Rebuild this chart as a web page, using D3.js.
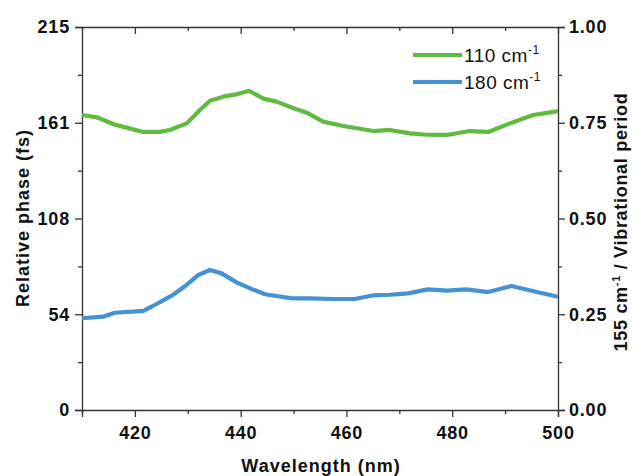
<!DOCTYPE html>
<html>
<head>
<meta charset="utf-8">
<script src="https://cdn.jsdelivr.net/npm/d3@7"></script>
<style>
  html, body { margin: 0; padding: 0; background: #fff; }
  svg { display: block; font-family: "Liberation Sans", Arial, sans-serif; }
</style>
</head>
<body>
<svg id="chart" width="633" height="476"></svg>
<script>
// Relative phase (fs) vs. wavelength for two vibrational modes
const wl110 = [410, 412.8, 416, 418.4, 421.6, 424.7, 426.6, 429.8, 432.3, 434.2, 436.7, 438.9, 441.6, 444.3, 446.8, 450, 452.5, 455.6, 459.4, 465.1, 468.2, 472, 475.2, 479, 483.3, 486.8, 490.9, 495.3, 500];
const phase110 = [165.6, 164.3, 160.4, 158.5, 156.1, 156.1, 157.2, 160.9, 168.4, 173.6, 175.9, 177, 179.2, 174.8, 173.1, 169.4, 166.9, 161.9, 159.4, 156.6, 157.2, 155.3, 154.5, 154.4, 156.6, 156.1, 160.9, 165.6, 167.8];

const wl180 = [410, 414, 416.2, 421.6, 424.1, 427.2, 429.5, 432, 434.2, 436.4, 439.3, 441.8, 444.6, 446.8, 449.7, 453.1, 457.5, 461.6, 465.1, 468.2, 471.7, 475.4, 479, 482.7, 486.8, 491.2, 496, 500];
const phase180 = [51.5, 52.4, 54.6, 55.6, 59.5, 64.6, 69.6, 75.8, 78.6, 76.7, 71.5, 68.3, 65, 64, 62.7, 62.7, 62.3, 62.3, 64.4, 64.7, 65.5, 67.7, 67, 67.7, 66.2, 69.6, 66.2, 63.6];

const seriesNames = ["110 cm", "180 cm"];
const seriesColors = ["#5fbb3f", "#4592d2"];

const xTicks = [420, 440, 460, 480, 500];
const xMinor = [410, 430, 450, 470, 490];
const phaseMax = 215;
const leftTicks = [0, 53.75, 107.5, 161.25, 215];
const leftLabels = ["0", "54", "108", "161", "215"];
const rightTicks = [0, 0.25, 0.5, 0.75, 1.0];

const svg = d3.select("#chart");
const m = { left: 82, right: 558, top: 27, bottom: 410 };

const x = d3.scaleLinear().domain([410, 500]).range([m.left, m.right]);
const y = d3.scaleLinear().domain([0, phaseMax]).range([m.bottom, m.top]);
const yR = d3.scaleLinear().domain([0, 1]).range([m.bottom, m.top]);

const tickFont = "bold 18px 'Liberation Sans', Arial, sans-serif";
const axisColor = "#333";

// minor tick positions halfway between labelled ticks
const leftMinor = d3.range(4).map(i => (leftTicks[i] + leftTicks[i + 1]) / 2);
const rightMinor = d3.range(4).map(i => (rightTicks[i] + rightTicks[i + 1]) / 2);

function styleAxis(g) {
  g.selectAll("path.domain").attr("stroke", axisColor).attr("stroke-width", 1.3);
  g.selectAll(".tick line").attr("stroke", axisColor).attr("stroke-width", 1.3);
  g.selectAll(".tick text").style("font", tickFont).style("letter-spacing", "0.8px").attr("fill", "#111");
}

// bottom axis
const gB = svg.append("g").attr("transform", `translate(0,${m.bottom})`)
  .call(d3.axisBottom(x).tickValues(xTicks).tickFormat(d3.format("d")).tickSize(7).tickPadding(9));
styleAxis(gB);
svg.append("g").attr("transform", `translate(0,${m.bottom})`)
  .call(d3.axisBottom(x).tickValues(xMinor).tickFormat("").tickSize(4))
  .call(g => g.select("path.domain").remove())
  .call(styleAxis);

// top axis (ticks inward)
const gT = svg.append("g").attr("transform", `translate(0,${m.top})`)
  .call(d3.axisBottom(x).tickValues(xTicks).tickFormat("").tickSizeInner(7).tickSizeOuter(0));
styleAxis(gT);
svg.append("g").attr("transform", `translate(0,${m.top})`)
  .call(d3.axisBottom(x).tickValues(xMinor).tickFormat("").tickSize(4))
  .call(g => g.select("path.domain").remove())
  .call(styleAxis);

// left axis
const gL = svg.append("g").attr("transform", `translate(${m.left},0)`)
  .call(d3.axisLeft(y).tickValues(leftTicks).tickFormat((d, i) => leftLabels[i]).tickSize(7).tickPadding(5));
styleAxis(gL);
svg.append("g").attr("transform", `translate(${m.left},0)`)
  .call(d3.axisLeft(y).tickValues(leftMinor).tickFormat("").tickSize(4))
  .call(g => g.select("path.domain").remove())
  .call(styleAxis);

// right axis
const gR = svg.append("g").attr("transform", `translate(${m.right},0)`)
  .call(d3.axisRight(yR).tickValues(rightTicks).tickFormat(d3.format(".2f")).tickSize(7).tickPadding(4));
styleAxis(gR);
svg.append("g").attr("transform", `translate(${m.right},0)`)
  .call(d3.axisRight(yR).tickValues(rightMinor).tickFormat("").tickSize(4))
  .call(g => g.select("path.domain").remove())
  .call(styleAxis);

// data lines
const line = d3.line().x(d => x(d[0])).y(d => y(d[1]));
const data110 = wl110.map((w, i) => [w, phase110[i]]);
const data180 = wl180.map((w, i) => [w, phase180[i]]);
[data110, data180].forEach((d, i) => {
  svg.append("path").datum(d)
    .attr("fill", "none")
    .attr("stroke", seriesColors[i])
    .attr("stroke-width", 4.2)
    .attr("stroke-linejoin", "round")
    .attr("d", line);
});

// axis titles
const titleFont = "bold 18px 'Liberation Sans', Arial, sans-serif";
svg.append("text")
  .attr("x", 321).attr("y", 472)
  .attr("text-anchor", "middle").style("font", titleFont).style("letter-spacing", "1px").attr("fill", "#111")
  .text("Wavelength (nm)");

svg.append("text")
  .attr("transform", `translate(29,218) rotate(-90)`)
  .attr("text-anchor", "middle").style("font", titleFont).style("letter-spacing", "1px").attr("fill", "#111")
  .text("Relative phase (fs)");

const rt = svg.append("text")
  .attr("transform", `translate(627,222) rotate(-90)`)
  .attr("text-anchor", "middle").style("font", titleFont).style("letter-spacing", "0.7px").attr("fill", "#111");
rt.append("tspan").text("155 cm");
rt.append("tspan").attr("dy", -7).style("font-size", "11px").text("-1");
rt.append("tspan").attr("dy", 7).text(" / Vibrational period");

// legend
const legend = svg.append("g");
seriesNames.forEach((name, i) => {
  const ly = 55 + i * 27;
  legend.append("line")
    .attr("x1", 413).attr("x2", 462).attr("y1", ly).attr("y2", ly)
    .attr("stroke", seriesColors[i]).attr("stroke-width", 4.2);
  const t = legend.append("text")
    .attr("x", 464).attr("y", ly + 7)
    .style("font", "19px 'Liberation Sans', Arial, sans-serif").style("letter-spacing", "0.5px").attr("fill", "#111");
  t.append("tspan").text(name);
  t.append("tspan").attr("dy", -8).style("font-size", "12px").text("-1");
});
</script>
</body>
</html>
